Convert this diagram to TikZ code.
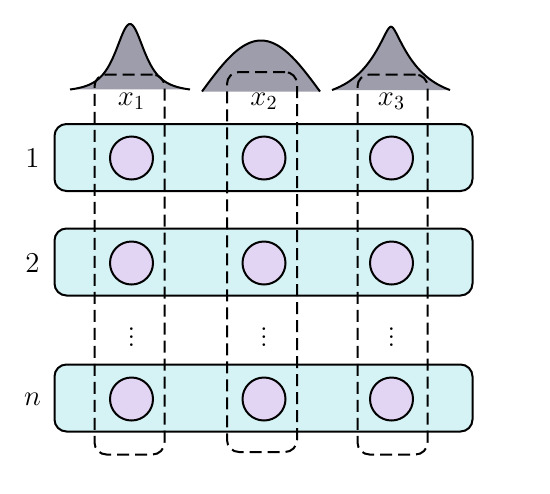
\documentclass[tikz,border=0pt]{standalone}
\usepackage{xcolor}
\definecolor{rowcol}{HTML}{D5F2F5}
\definecolor{unitcol}{HTML}{E1D5F3}
\definecolor{distcol}{HTML}{9D9DAB}
\usepackage{amsmath}
\usepackage{tikz}
\usetikzlibrary{positioning}
\begin{document}
\begin{tikzpicture}[x=0.5pt,y=-0.5pt,line width=1pt,font=\fontsize{14}{17}\selectfont,
    rowbox/.style={draw,fill=rowcol,rounded corners=6pt,minimum width=209pt,minimum height=33.5pt,inner sep=0pt},
    unit/.style={draw,fill=unitcol,circle,minimum size=21.5pt,inner sep=0pt},
    colbox/.style={draw,dashed,dash pattern=on 6pt off 3pt,rounded corners=6pt,minimum width=35pt,minimum height=190pt,inner sep=0pt}]
          \useasboundingbox (0,0) rectangle (550,493);
          % distributions
          \fill[distcol] plot[domain=-60:60,samples=121] ({130+\x},{92.5-68.5/((1+\x*\x/512)^1.5)}) -- cycle;
          \draw plot[domain=-60:60,samples=121] ({130+\x},{92.5-68.5/((1+\x*\x/512)^1.5)});
          \fill[distcol] plot[domain=-59:59,samples=121] ({261+\x},{91.5-51*cos(90*\x/59)}) -- cycle;
          \draw plot[domain=-59:59,samples=121] ({261+\x},{91.5-51*cos(90*\x/59)});
          \fill[distcol] plot[domain=-59:59,samples=121] ({391+\x},{90-63.3*(exp(-(sqrt(\x*\x+16)-4)/28)-0.1396)/0.8604}) -- cycle;
          \draw plot[domain=-59:59,samples=121] ({391+\x},{90-63.3*(exp(-(sqrt(\x*\x+16)-4)/28)-0.1396)/0.8604});
          \node[rowbox](r1) at (263.5,157.5) {};
          \node[rowbox](r2) at (263.5,262) {};
          \node[rowbox](rn) at (263.5,398) {};
          \node(l1) at (32.5,158) {$1$};
          \node(l2) at (32.5,263) {$2$};
          \node(ln) at (32.5,399) {$n$};
          \node[unit](u11) at (131.5,158) {};
          \node[unit](u12) at (264,158) {};
          \node[unit](u13) at (391.5,158) {};
          \node[unit](u21) at (131.5,263) {};
          \node[unit](u22) at (264,263) {};
          \node[unit](u23) at (391.5,263) {};
          \node[unit](un1) at (131.5,399) {};
          \node[unit](un2) at (264,399) {};
          \node[unit](un3) at (391.5,399) {};
          \node[inner sep=0pt](d1) at (131.5,331) {$\vdots$};
          \node[inner sep=0pt](d2) at (264,331) {$\vdots$};
          \node[inner sep=0pt](d3) at (391.5,331) {$\vdots$};
          \node(x1) at (131.5,101) {$x_1$};
          \node(x2) at (264,101) {$x_2$};
          \node(x3) at (391.5,101) {$x_3$};
          \node[colbox](c1) at (129.5,264.5) {};
          \node[colbox](c2) at (262,262) {};
          \node[colbox](c3) at (392.5,264.5) {};
      \end{tikzpicture}
\end{document}
